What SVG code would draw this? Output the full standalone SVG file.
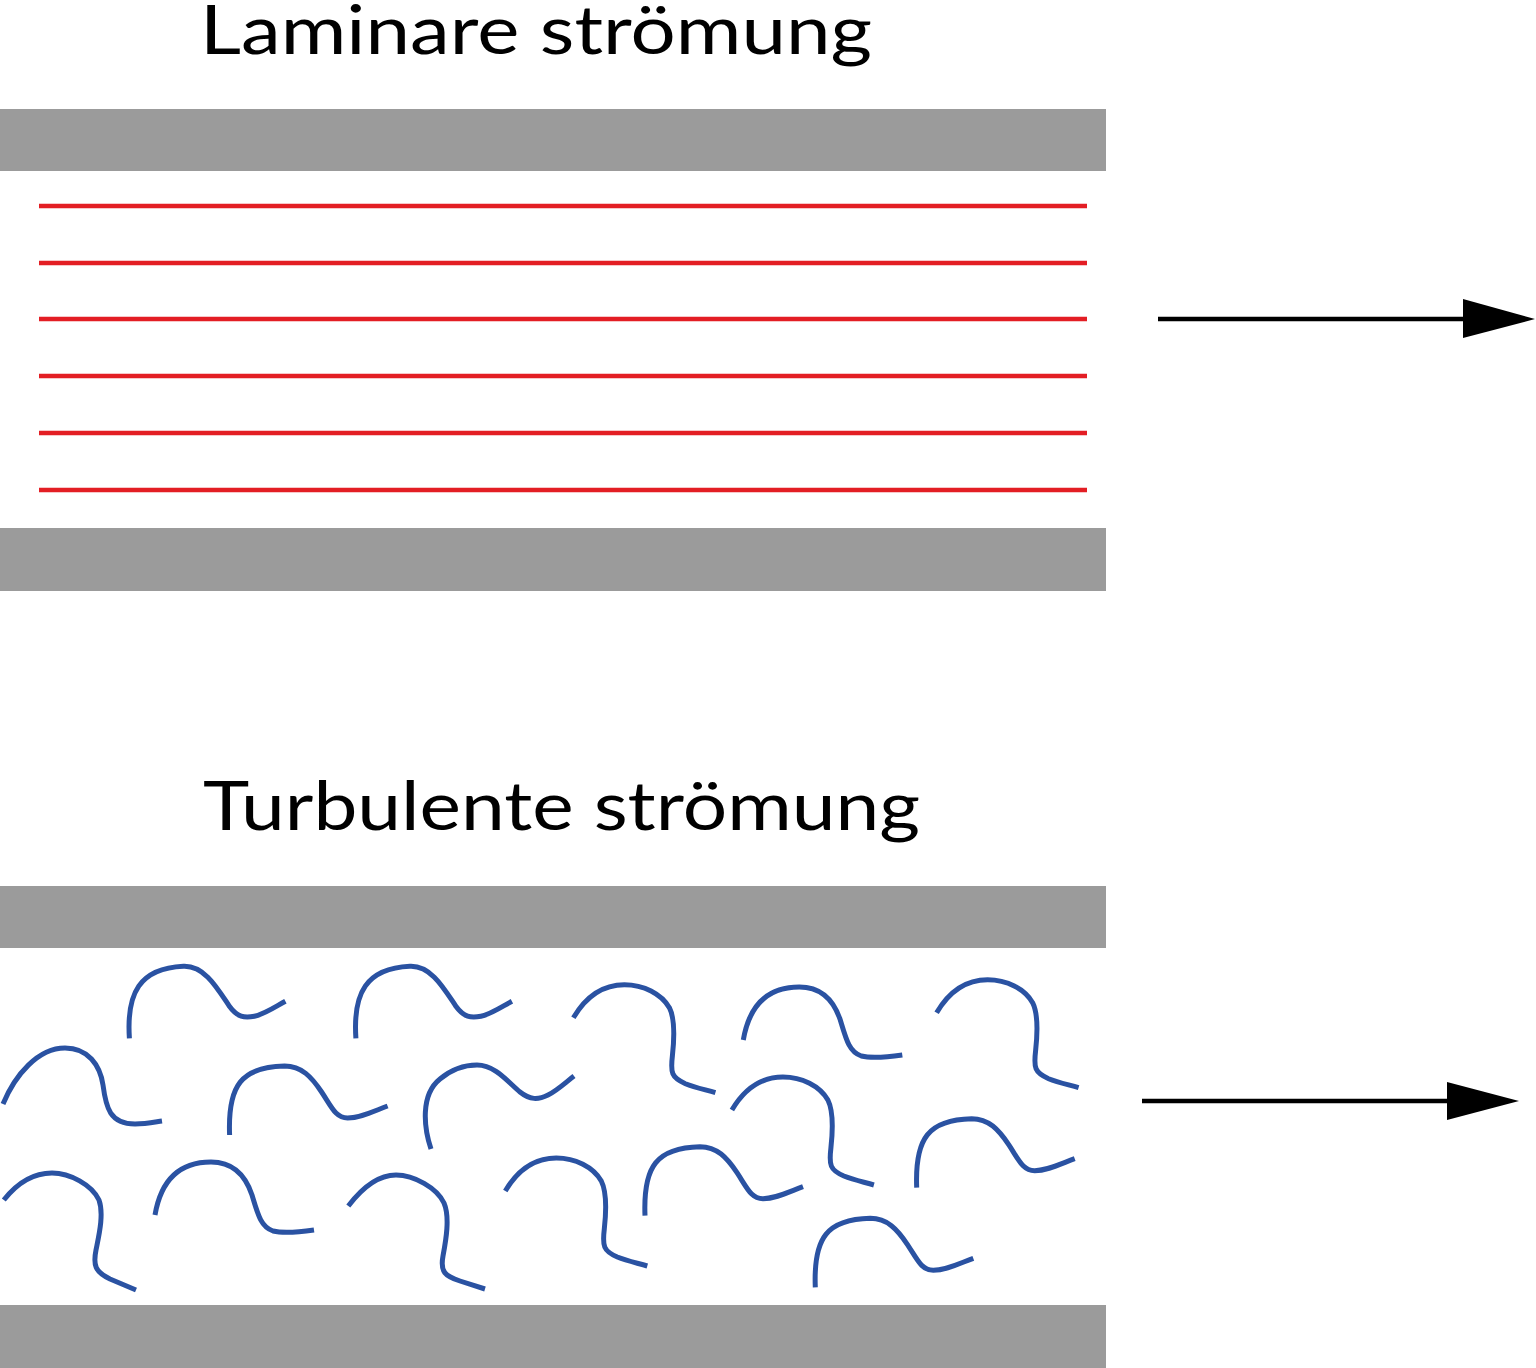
<svg xmlns="http://www.w3.org/2000/svg" xmlns:xlink="http://www.w3.org/1999/xlink" width="1536" height="1368" viewBox="0 0 1536 1368">
<style>
.wall{fill:#9b9b9b}
.lam{stroke:#e31e24;stroke-width:4.5;fill:none}
.sq{stroke:#2a52a2;stroke-width:5;fill:none;stroke-linecap:butt;stroke-linejoin:round}
.arr{stroke:#000;stroke-width:4.5;fill:none}
.head{fill:#000}
.title{font-family:Lato,"Noto Sans","Liberation Sans",sans-serif;font-size:67px;fill:#000}
</style>
<defs>
<path id="t1" d="M0,0 C-2,-50 12,-68 55,-69 C72,-69 82,-58 92,-43 C102,-28 106,-17 118,-17 C130,-17 142,-23 158,-29"/>
<path id="t1a" d="M0,0 C-3,-45 10,-70 54,-72 C75,-73 88,-50 100,-32 C108,-21 115,-20 125,-22 C135,-24 145,-31 156,-37"/>
<path id="t3" d="M0,0 C13,-22 30,-33 51,-33 C70,-33 88,-24 96,-10 C102,2 101,20 99,38 C97,55 98,60 112,66 C122,70 132,72 142,75"/>
<path id="t4" d="M0,0 C6,-35 25,-53 56,-53 C80,-53 91,-38 97,-20 C103,0 106,12 118,16 C130,19 145,17 159,15"/>
</defs>

<g id="laminar">
<text class="title" x="200" y="54" textLength="672" lengthAdjust="spacingAndGlyphs">Laminare strömung</text>
<rect class="wall" x="0" y="109" width="1106" height="62"/>
<rect class="wall" x="0" y="528" width="1106" height="63"/>
<g id="streamlines">
<line class="lam" x1="39" y1="206" x2="1087" y2="206"/>
<line class="lam" x1="39" y1="263" x2="1087" y2="263"/>
<line class="lam" x1="39" y1="319" x2="1087" y2="319"/>
<line class="lam" x1="39" y1="376" x2="1087" y2="376"/>
<line class="lam" x1="39" y1="433" x2="1087" y2="433"/>
<line class="lam" x1="39" y1="490" x2="1087" y2="490"/>
</g>
</g>

<g id="turbulent">
<text class="title" x="203" y="830" textLength="717" lengthAdjust="spacingAndGlyphs">Turbulente strömung</text>
<rect class="wall" x="0" y="886" width="1106" height="62"/>
<rect class="wall" x="0" y="1305" width="1106" height="63"/>
<g id="eddies">
<use class="sq" xlink:href="#t1a" href="#t1a" transform="translate(129.4,1038.3)"/>
<use class="sq" xlink:href="#t1a" href="#t1a" transform="translate(355.9,1038.3)"/>
<use class="sq" xlink:href="#t1" href="#t1" transform="translate(229.6,1135)"/>
<use class="sq" xlink:href="#t1" href="#t1" transform="translate(916.7,1187.7)"/>
<use class="sq" xlink:href="#t1" href="#t1" transform="translate(645,1215.7)"/>
<use class="sq" xlink:href="#t1" href="#t1" transform="translate(815.3,1287.3)"/>
<use class="sq" xlink:href="#t3" href="#t3" transform="translate(573.4,1017.7)"/>
<use class="sq" xlink:href="#t3" href="#t3" transform="translate(936.6,1012.7)"/>
<use class="sq" xlink:href="#t3" href="#t3" transform="translate(731.9,1110)"/>
<use class="sq" xlink:href="#t3" href="#t3" transform="translate(505.3,1191)"/>
<use class="sq" xlink:href="#t4" href="#t4" transform="translate(743.3,1040)"/>
<use class="sq" xlink:href="#t4" href="#t4" transform="translate(155,1215)"/>
<path class="sq" d="M3,1104 C15,1075 38,1048 65,1048 C88,1048 100,1065 103,1085 C106,1108 110,1124 135,1124 C146,1124 155,1122 162,1121"/>
<path class="sq" d="M431,1149 C424,1128 420,1095 440,1079 C452,1069 465,1065 477,1065 C495,1065 508,1082 520,1092 C530,1100 538,1100 548,1095 C558,1090 566,1082 574,1076"/>
<path class="sq" d="M3.8,1200 C18,1182 33,1173 52,1173 C70,1173 92,1185 99,1200 C104,1214 99,1235 96,1250 C93,1265 95,1272 110,1279 L136,1290"/>
<path class="sq" d="M348.3,1206 C362,1188 378,1175 396,1175 C414,1175 437,1188 444,1203 C450,1217 446,1240 443,1256 C440,1272 445,1276 460,1281 L485,1289"/>
</g>
</g>

<g id="connectors">
<line class="arr" x1="1158" y1="319" x2="1466" y2="319"/>
<polygon class="head" points="1463,299 1535,319 1463,338"/>
<line class="arr" x1="1142" y1="1101" x2="1450" y2="1101"/>
<polygon class="head" points="1447,1082 1519,1101 1447,1120"/>
</g>
</svg>
